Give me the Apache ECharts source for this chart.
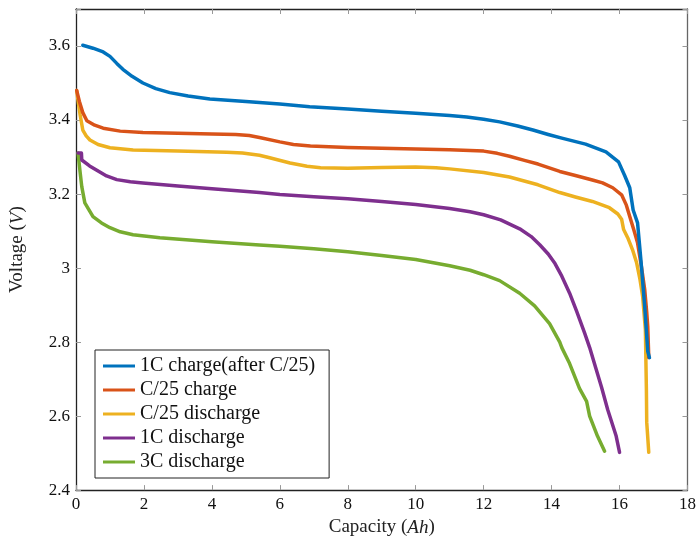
<!DOCTYPE html>
<html>
<head>
<meta charset="utf-8">
<script src="https://cdn.jsdelivr.net/npm/echarts@6/dist/echarts.min.js"></script>
<style>
  html, body {margin:0; padding:0; background:#fff;}
  #main {width:699px; height:542px;}
</style>
</head>
<body>
<div id="main"></div>
<script>
// series names
const names = ['1C charge(after C/25)', 'C/25 charge', 'C/25 discharge', '1C discharge', '3C discharge'];
const colors = ['#0072BD', '#D95319', '#EDB120', '#7E2F8E', '#77AC30'];

// [capacity Ah, voltage V]
const charge1C = [
  [0.2, 3.602], [0.5, 3.594], [0.8, 3.584], [1.0, 3.572], [1.2, 3.553], [1.38, 3.537],
  [1.65, 3.518], [1.97, 3.500], [2.35, 3.485], [2.76, 3.474], [3.3, 3.465], [3.94, 3.457],
  [5, 3.450], [6, 3.443], [6.88, 3.436], [8, 3.430], [9, 3.424], [10, 3.418], [11, 3.412],
  [11.5, 3.408], [12, 3.402], [12.47, 3.395], [13, 3.384], [13.45, 3.373], [13.9, 3.361],
  [14.3, 3.351], [15, 3.335], [15.6, 3.314], [15.97, 3.287], [16.15, 3.25], [16.3, 3.217],
  [16.4, 3.157], [16.53, 3.122], [16.63, 3.02], [16.74, 2.896], [16.83, 2.775], [16.88, 2.758]
];
const chargeC25 = [
  [0.02, 3.48], [0.1, 3.45], [0.2, 3.42], [0.32, 3.398], [0.55, 3.386], [0.8, 3.378],
  [1.3, 3.370], [1.97, 3.366], [3, 3.364], [4, 3.362], [4.7, 3.361], [5.1, 3.358], [5.4, 3.353],
  [6, 3.341], [6.4, 3.334], [6.9, 3.330], [8, 3.326], [9, 3.324], [10, 3.322], [11, 3.320],
  [12, 3.316], [12.4, 3.310], [12.76, 3.302], [13.2, 3.291], [13.6, 3.281], [14.24, 3.261],
  [14.7, 3.250], [15.2, 3.238], [15.5, 3.230], [15.8, 3.217], [16.06, 3.198], [16.2, 3.17],
  [16.3, 3.139], [16.43, 3.10], [16.53, 3.068], [16.65, 3.00], [16.74, 2.942], [16.8, 2.88],
  [16.83, 2.842], [16.86, 2.758]
];
const dischargeC25 = [
  [0.02, 3.48], [0.08, 3.44], [0.12, 3.415], [0.2, 3.373], [0.3, 3.357], [0.41, 3.346],
  [0.65, 3.334], [1.0, 3.325], [1.68, 3.319], [3, 3.316], [4.44, 3.313], [4.9, 3.311],
  [5.4, 3.305], [5.7, 3.298], [6.3, 3.284], [6.8, 3.275], [7.2, 3.271], [8, 3.270], [9, 3.272],
  [10, 3.273], [10.6, 3.271], [11, 3.268], [12, 3.258], [12.76, 3.246], [13.6, 3.225],
  [14.24, 3.204], [14.7, 3.192], [15.2, 3.180], [15.7, 3.163], [15.95, 3.146], [16.06, 3.132],
  [16.12, 3.104], [16.24, 3.082], [16.38, 3.05], [16.5, 3.015], [16.6, 2.97], [16.68, 2.923],
  [16.76, 2.834], [16.79, 2.672], [16.8, 2.583], [16.86, 2.502]
];
const discharge1C = [
  [0.06, 3.311], [0.16, 3.311], [0.17, 3.292], [0.4, 3.276], [0.6, 3.265], [0.9, 3.249],
  [1.2, 3.239], [1.6, 3.233], [1.97, 3.230], [3, 3.222], [4, 3.214], [5.4, 3.204], [6, 3.199],
  [7, 3.193], [8, 3.187], [9, 3.180], [10, 3.172], [11, 3.161], [11.6, 3.152], [12, 3.144],
  [12.5, 3.130], [13.06, 3.106], [13.4, 3.085], [13.65, 3.063], [13.9, 3.038], [14.1, 3.012],
  [14.3, 2.978], [14.53, 2.932], [14.73, 2.885], [14.97, 2.825], [15.12, 2.785], [15.3, 2.73],
  [15.47, 2.678], [15.65, 2.618], [15.9, 2.546], [16.0, 2.502]
];
const discharge3C = [
  [0.06, 3.311], [0.12, 3.26], [0.17, 3.22], [0.26, 3.176], [0.5, 3.139], [0.75, 3.122],
  [1.0, 3.109], [1.3, 3.098], [1.68, 3.090], [2.47, 3.082], [4, 3.071], [5.4, 3.062],
  [6, 3.059], [7, 3.052], [8, 3.044], [9, 3.034], [10, 3.023], [11, 3.006], [11.6, 2.994],
  [12, 2.982], [12.47, 2.966], [13.06, 2.932], [13.5, 2.898], [13.94, 2.850], [14.24, 2.800],
  [14.3, 2.785], [14.53, 2.742], [14.82, 2.675], [15.03, 2.640], [15.12, 2.600], [15.35, 2.546], [15.56, 2.505]
];
const seriesData = [charge1C, chargeC25, dischargeC25, discharge1C, discharge3C];

const xTicks = [0, 18, 2];     // min, max, interval
const yTicks = [2.4, 3.7, 0.2];

const font = 'Liberation Serif';
const tickStyle = {show: true, inside: true, length: 5, lineStyle: {color: '#999', width: 1}};
const frame = {show: true, onZero: false, lineStyle: {color: '#222', width: 1.3}};
const nameStyle = {fontFamily: font, fontSize: 19, color: '#222',
  rich: {i: {fontFamily: font, fontStyle: 'italic', fontSize: 19, color: '#222'}}};

let myChart = echarts.init(document.getElementById('main'));
let option = {
  animation: false,
  backgroundColor: '#fff',
  grid: {left: 76, right: 11, top: 9, bottom: 51},
  legend: {
    data: names,
    orient: 'vertical',
    left: 95,
    top: 350,
    padding: [6, 14, 6, 8],
    icon: 'rect',
    itemWidth: 32,
    itemHeight: 3,
    itemGap: 4,
    backgroundColor: '#fff',
    borderColor: '#222',
    borderWidth: 1,
    textStyle: {fontFamily: font, fontSize: 20, color: '#111', lineHeight: 19}
  },
  xAxis: [{
    type: 'value', min: xTicks[0], max: xTicks[1], interval: xTicks[2],
    name: 'Capacity ({i|Ah})', nameLocation: 'middle', nameGap: 26,
    nameTextStyle: nameStyle,
    axisLine: frame, axisTick: tickStyle, splitLine: {show: false},
    axisLabel: {fontFamily: font, fontSize: 17, color: '#111', margin: 6}
  }, {
    type: 'value', position: 'top', min: xTicks[0], max: xTicks[1], interval: xTicks[2],
    axisLine: frame, axisTick: tickStyle, axisLabel: {show: false}, splitLine: {show: false}
  }],
  yAxis: [{
    type: 'value', min: yTicks[0], max: yTicks[1], interval: yTicks[2],
    name: 'Voltage ({i|V})', nameLocation: 'middle', nameGap: 49,
    nameTextStyle: nameStyle,
    axisLine: frame, axisTick: tickStyle, splitLine: {show: false},
    axisLabel: {fontFamily: font, fontSize: 17, color: '#111', margin: 6,
      formatter: function (v) { return v > 3.65 ? '' : String(+v.toFixed(1)); }}
  }, {
    type: 'value', position: 'right', min: yTicks[0], max: yTicks[1], interval: yTicks[2],
    axisLine: {show: true, onZero: false, lineStyle: {color: '#666', width: 1.3}},
    axisTick: tickStyle, axisLabel: {show: false}, splitLine: {show: false}
  }],
  series: names.map(function (n, i) {
    return {
      name: n, type: 'line', data: seriesData[i],
      showSymbol: false, symbol: 'none',
      smooth: false,
      lineStyle: {color: colors[i], width: 3.5, join: 'round', cap: 'round'},
      itemStyle: {color: colors[i]},
      z: 10 - i
    };
  })
};
myChart.setOption(option);
window.onresize = myChart.resize;
</script>
</body>
</html>
